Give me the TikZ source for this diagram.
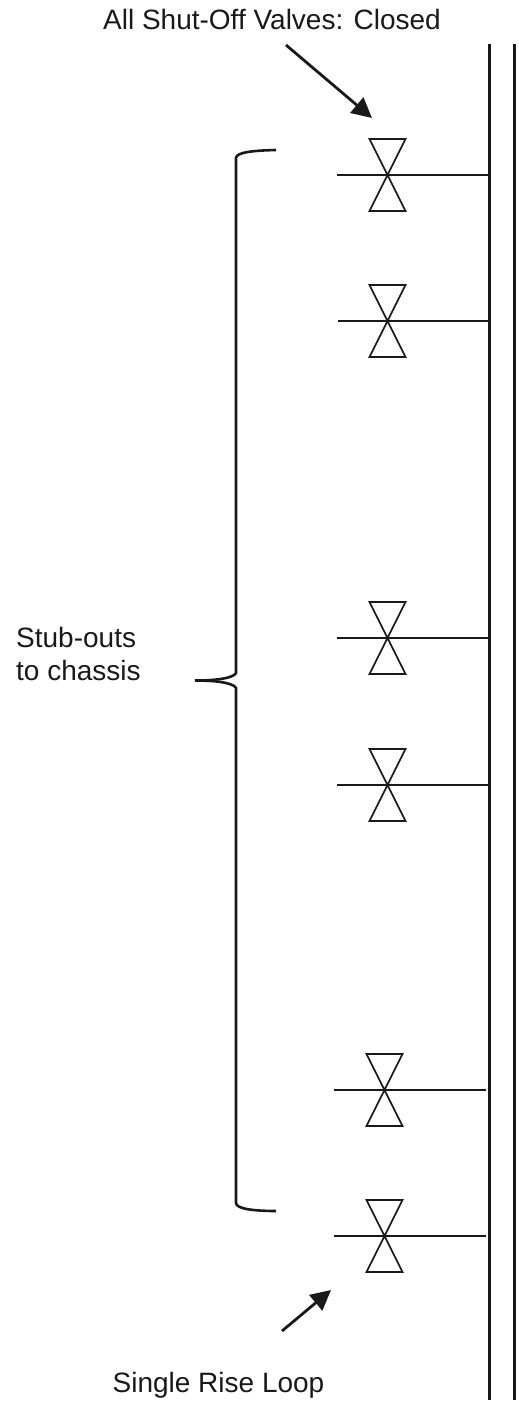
\documentclass[tikz,border=0pt]{standalone}
\usepackage{fontspec}
\setmainfont{Liberation Sans}
\usetikzlibrary{arrows.meta}
\tikzset{
  pipe/.style={line width=3pt,black!90},
  branch/.style={line width=2.4pt,black!90},
  valvebody/.style={line width=1.6pt,black!90,line join=miter},
  bracket/.style={line width=2.6pt,black!90},
  pointer/.style={line width=2.8pt,black!90,-{Triangle[length=20pt,width=20pt]}},
  label/.style={font=\fontsize{28pt}{33pt}\selectfont,black!90,inner sep=0pt,align=left},
  valve/.pic={\draw[valvebody] (-18,-36) -- (18,-36) -- (-18,36) -- (18,36) -- cycle;}
}
\begin{document}
\begin{tikzpicture}[x=1pt,y=-1pt]
\useasboundingbox (0,0) rectangle (519,1403);
% pipes
\coordinate (p1t) at (489.3,44); \coordinate (p1b) at (489.3,1400);
\coordinate (p2t) at (514.3,44); \coordinate (p2b) at (514.3,1400);
\draw[pipe] (p1t) -- (p1b);
\draw[pipe] (p2t) -- (p2b);
% valves
\foreach \n/\xc/\yc/\xs/\xe in {1/387.5/175/337/489,2/387.5/321/338/489,3/387.5/638/337/489,4/387.5/785/337/489,5/384.5/1090/334/486,6/384.5/1236/334/486}{
  \coordinate (v\n) at (\xc,\yc);
  \coordinate (s\n) at (\xs,\yc);
  \coordinate (j\n) at (\xe,\yc);
  \pic at (v\n) {valve};
  \draw[branch] (s\n) -- (j\n);
}
% brace
\coordinate (bt) at (276,150);
\coordinate (bb) at (276,1211);
\coordinate (bm) at (195,680.5);
\draw[bracket] (bt) .. controls (255,150.5) and (236,152) .. (236,158) -- (236,673) .. controls (234,677) and (222,680.5) .. (bm);
\draw[bracket] (bm) .. controls (222,680.5) and (234,684) .. (236,688) -- (236,1203) .. controls (236,1209) and (255,1211) .. (bb);
% labels
\node[label,anchor=center] (title) at (272,19.5) {All Shut-Off Valves: Closed};
\node[label,anchor=west] (stub) at (16,654) {Stub-outs\\to chassis};
\node[label,anchor=center] (rise) at (218.5,1385) {Single Rise Loop};
% arrows
\coordinate (a1s) at (286,45); \coordinate (a1e) at (372,118);
\coordinate (a2s) at (282,1331); \coordinate (a2e) at (331,1290);
\draw[pointer] (a1s) -- (a1e);
\draw[pointer] (a2s) -- (a2e);
\end{tikzpicture}
\end{document}
